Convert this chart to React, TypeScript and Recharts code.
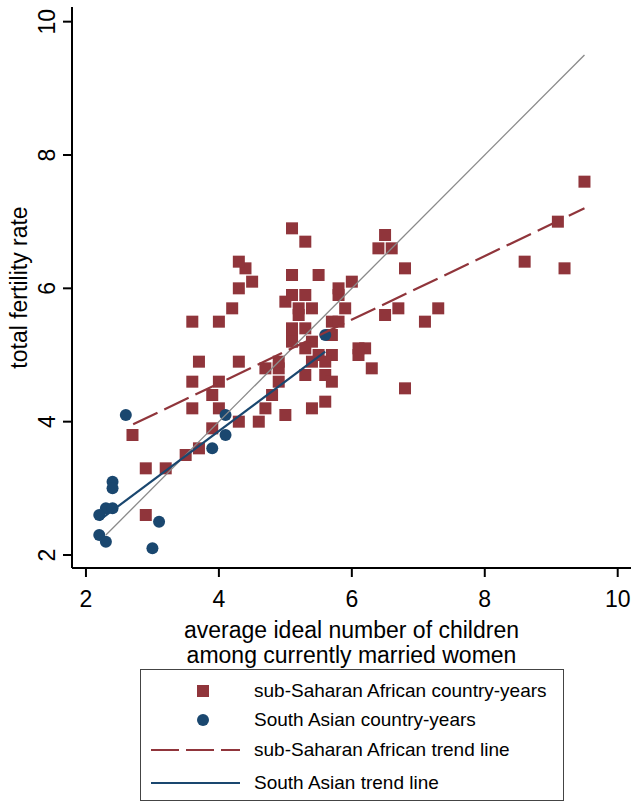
import { Scatter, ScatterChart, XAxis, YAxis } from 'recharts';

// sub-Saharan African country-years: [ideal number, total fertility]
const ssaPoints: [number, number][] = [
  [2.7, 3.8], [2.9, 3.3], [3.2, 3.3], [2.9, 2.6], [3.5, 3.5], [3.7, 3.6], [3.9, 3.9],
  [3.6, 4.2], [4.0, 4.2], [4.3, 4.0], [4.6, 4.0], [3.9, 4.4], [3.6, 4.6], [4.0, 4.6],
  [3.7, 4.9], [4.3, 4.9], [3.6, 5.5], [4.0, 5.5], [4.2, 5.7], [4.3, 6.0], [4.5, 6.1],
  [4.4, 6.3], [4.3, 6.4], [4.7, 4.2], [4.8, 4.4], [4.9, 4.6], [4.7, 4.8], [4.9, 4.8],
  [4.9, 4.9], [5.0, 4.1], [5.0, 5.8], [5.1, 6.9], [5.3, 6.7], [5.1, 6.2], [5.5, 6.2],
  [5.1, 5.9], [5.3, 5.9], [5.2, 5.7], [5.2, 5.6], [5.4, 5.7], [5.1, 5.4], [5.3, 5.4],
  [5.1, 5.3], [5.1, 5.2], [5.4, 5.2], [5.3, 5.1], [5.5, 5.0], [5.7, 5.0], [5.4, 4.9],
  [5.6, 4.9], [5.3, 4.7], [5.6, 4.7], [5.7, 4.6], [5.6, 4.3], [5.4, 4.2], [5.7, 5.3],
  [5.7, 5.5], [5.8, 5.5], [5.9, 5.7], [5.8, 5.9], [5.8, 6.0], [6.0, 6.1], [6.1, 5.1],
  [6.2, 5.1], [6.1, 5.0], [6.3, 4.8], [6.4, 6.6], [6.6, 6.6], [6.5, 6.8], [6.8, 6.3],
  [6.5, 5.6], [6.7, 5.7], [7.1, 5.5], [7.3, 5.7], [6.8, 4.5], [8.6, 6.4], [9.2, 6.3],
  [9.1, 7.0], [9.5, 7.6],
];

// South Asian country-years
const saPoints: [number, number][] = [
  [2.6, 4.1], [2.4, 3.1], [2.4, 3.0], [2.3, 2.7], [2.4, 2.7], [2.2, 2.6], [2.2, 2.3],
  [2.3, 2.2], [3.1, 2.5], [3.0, 2.1], [4.1, 4.1], [4.1, 3.8], [3.9, 3.6], [5.6, 5.3],
];

const diagLine: [number, number][] = [[2.3, 2.3], [9.5, 9.5]];
const ssaTrend: [number, number][] = [[2.71, 3.96], [9.5, 7.2]];
const saTrend: [number, number][] = [[2.2, 2.52], [5.6, 5.05]];

const xTicks = [2, 4, 6, 8, 10];
const yTicks = [2, 4, 6, 8, 10];

const MAROON = '#90353b';
const NAVY = '#1a476f';
const FONT = '"Liberation Sans", Arial, Helvetica, sans-serif';

const toXY = (pts: [number, number][]) => pts.map(([x, y]) => ({ x, y }));

const Square = (p: any) => (
  <rect x={p.cx - 6} y={p.cy - 6} width={12} height={12} fill={MAROON} />
);
const Dot = (p: any) => <circle cx={p.cx} cy={p.cy} r={6} fill={NAVY} />;
const NoMark = () => <g />;

const YTick = ({ x, y, payload }: any) => (
  <text
    x={x}
    y={y}
    transform={`rotate(-90 ${x} ${y})`}
    textAnchor="middle"
    fill="#000"
    fontSize={23}
    fontFamily={FONT}
  >
    {payload.value}
  </text>
);

const XTitle = ({ viewBox }: any) => {
  const cx = viewBox.x + viewBox.width / 2;
  return (
    <text textAnchor="middle" fill="#000" fontSize={23} fontFamily={FONT}>
      <tspan x={cx} y={viewBox.y + 70}>average ideal number of children</tspan>
      <tspan x={cx} y={viewBox.y + 95}>among currently married women</tspan>
    </text>
  );
};

const YTitle = ({ viewBox }: any) => {
  const cy = viewBox.y + viewBox.height / 2;
  return (
    <text
      x={27}
      y={cy}
      transform={`rotate(-90 27 ${cy})`}
      textAnchor="middle"
      fill="#000"
      fontSize={23}
      fontFamily={FONT}
    >
      total fertility rate
    </text>
  );
};

const legendRows = [
  { label: 'sub-Saharan African country-years', kind: 'square' },
  { label: 'South Asian country-years', kind: 'circle' },
  { label: 'sub-Saharan African trend line', kind: 'dash' },
  { label: 'South Asian trend line', kind: 'solid' },
];
const rowTops = [21, 50, 80, 113];

function LegendIcon({ kind }: { kind: string }) {
  return (
    <svg width={100} height={16} style={{ position: 'absolute', left: 8, top: -8 }}>
      {kind === 'square' && <rect x={48} y={2} width={12} height={12} fill={MAROON} />}
      {kind === 'circle' && <circle cx={54} cy={8} r={6} fill={NAVY} />}
      {kind === 'dash' && (
        <line x1={2} y1={8} x2={91} y2={8} stroke={MAROON} strokeWidth={2.2} strokeDasharray="28 7" />
      )}
      {kind === 'solid' && <line x1={2} y1={8} x2={91} y2={8} stroke={NAVY} strokeWidth={2.2} />}
    </svg>
  );
}

export default function App() {
  return (
    <div
      style={{
        position: 'absolute',
        left: 0,
        top: 0,
        width: 631,
        height: 803,
        background: '#fff',
        fontFamily: FONT,
        overflow: 'hidden',
      }}
    >
      <ScatterChart width={631} height={803} margin={{ top: 7, right: 0, bottom: 0, left: 0 }}>
        <XAxis
          type="number"
          dataKey="x"
          domain={[1.79, 10.2]}
          ticks={xTicks}
          allowDataOverflow
          height={235}
          tickSize={9}
          tickMargin={14}
          axisLine={{ stroke: '#000', strokeWidth: 2 }}
          tickLine={{ stroke: '#000', strokeWidth: 2 }}
          tick={{ fill: '#000', fontSize: 23, fontFamily: FONT }}
          label={{ content: XTitle }}
        />
        <YAxis
          type="number"
          dataKey="y"
          domain={[1.805, 10.22]}
          ticks={yTicks}
          allowDataOverflow
          width={72}
          tickSize={9}
          tickMargin={8}
          axisLine={{ stroke: '#000', strokeWidth: 2 }}
          tickLine={{ stroke: '#000', strokeWidth: 2 }}
          tick={YTick}
          label={{ content: YTitle }}
        />
        <Scatter data={toXY(ssaPoints)} shape={Square} isAnimationActive={false} />
        <Scatter data={toXY(saPoints)} shape={Dot} isAnimationActive={false} />
        <Scatter
          data={toXY(diagLine)}
          shape={NoMark}
          line={{ stroke: '#8a8a8a', strokeWidth: 1.3 }}
          isAnimationActive={false}
        />
        <Scatter
          data={toXY(ssaTrend)}
          shape={NoMark}
          line={{ stroke: MAROON, strokeWidth: 2.2, strokeDasharray: '27 7.5' }}
          isAnimationActive={false}
        />
        <Scatter
          data={toXY(saTrend)}
          shape={NoMark}
          line={{ stroke: NAVY, strokeWidth: 2.2 }}
          isAnimationActive={false}
        />
      </ScatterChart>
      <div
        style={{
          position: 'absolute',
          left: 140,
          top: 669,
          width: 424,
          height: 132,
          border: '1.5px solid #444',
          boxSizing: 'border-box',
        }}
      >
        {legendRows.map((r, i) => (
          <div key={r.label} style={{ position: 'absolute', left: 0, top: rowTops[i], width: '100%' }}>
            <LegendIcon kind={r.kind} />
            <span
              style={{
                position: 'absolute',
                left: 113,
                top: -11,
                fontSize: 19,
                lineHeight: '22px',
                whiteSpace: 'nowrap',
                color: '#000',
              }}
            >
              {r.label}
            </span>
          </div>
        ))}
      </div>
    </div>
  );
}
